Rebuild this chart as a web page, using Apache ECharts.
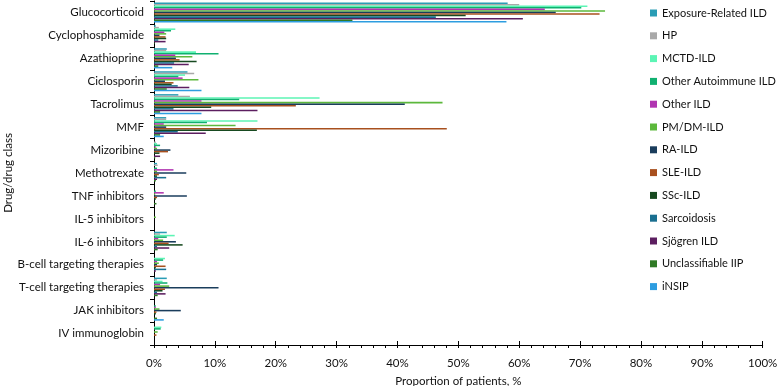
<!DOCTYPE html>
<html><head><meta charset="utf-8">
<script src="https://cdn.jsdelivr.net/npm/echarts@6/dist/echarts.min.js"></script>
<style>html,body{margin:0;padding:0;background:#fff}#c{width:778px;height:386px}</style>
</head><body><div id="c"></div>
<script>
var categories = ["Glucocorticoid","Cyclophosphamide","Azathioprine","Ciclosporin","Tacrolimus","MMF","Mizoribine","Methotrexate","TNF inhibitors","IL-5 inhibitors","IL-6 inhibitors","B-cell targeting therapies","T-cell targeting therapies","JAK inhibitors","IV immunoglobin"];
var xTicks = [0,10,20,30,40,50,60,70,80,90,100];
var seriesNames = ["Exposure-Related ILD","HP","MCTD-ILD","Other Autoimmune ILD","Other ILD","PM/DM-ILD","RA-ILD","SLE-ILD","SSc-ILD","Sarcoidosis","Sjögren ILD","Unclassifiable IIP","iNSIP"];
var exposure = [58.1,0.3,2.1,5.5,4.0,2.0,0,0.5,0,0,2.1,0,2.1,0,0];
var hp       = [60.0,0.8,2.0,6.6,5.9,2.0,0.3,0.6,0,0,1.0,0,0.5,0,0];
var mctd     = [71.2,3.5,6.9,5.1,27.2,17.0,0.5,0,0,0,3.4,1.8,1.4,0,1.2];
var otherAuto= [70.2,2.8,10.6,4.0,14.0,8.7,1.0,0.5,0.3,0,2.1,1.5,2.2,0.3,1.1];
var otherIld = [64.2,1.7,3.5,4.7,7.8,1.6,0.3,3.2,1.6,0,0.7,0.5,1.0,0.3,0];
var pmdm     = [74.1,2.0,6.3,7.3,47.4,13.4,0.5,0.5,0.2,0.3,1.5,0.8,2.5,0.9,0.6];
var ra       = [66.0,0.9,3.6,1.8,41.2,2.0,2.7,5.3,5.4,0,3.6,0.5,10.6,4.4,0];
var sle      = [73.2,1.9,4.2,3.2,23.3,48.1,2.3,0.8,0.5,0,2.4,1.9,1.8,0.4,0.4];
var ssc      = [51.2,2.0,7.0,2.9,9.4,16.9,0.9,0.5,0.3,0,4.7,0.3,1.4,0.3,0];
var sarc     = [46.3,0.7,3.3,3.9,3.2,3.9,0,2.0,0,0,0.5,2.0,0.5,0,0];
var sjogren  = [60.6,1.9,5.7,5.8,17.0,8.5,1.0,0.5,0,0,2.5,0.3,1.9,0,0];
var uncl     = [32.6,0.1,0.7,2.1,1.0,1.0,0.2,0.3,0.4,0,0.6,0,0.6,0.5,0];
var insip    = [57.9,0,3.0,7.8,7.8,1.6,0,0,0,0,0,0,0,1.6,0];
var seriesData = [exposure,hp,mctd,otherAuto,otherIld,pmdm,ra,sle,ssc,sarc,sjogren,uncl,insip];
var colors = ["#2a9db5","#a9a9a9","#5cf5b5","#10b070","#b035b0","#5cb83c","#1a3d5c","#a8501e","#174a20","#1a6f90","#5c1e60","#2f7a25","#2d9de0"];

var font = "Lato";
var chart = echarts.init(document.getElementById('c'), null, {renderer:'canvas'});
var series = seriesNames.map(function(n,i){
  return {name:n, type:'bar', data:seriesData[i], barGap:'0%', barCategoryGap:'12%',
    itemStyle:{color:colors[i]}, xAxisIndex:0, yAxisIndex:0};
});
chart.setOption({
  animation:false,
  color:colors,
  textStyle:{fontFamily:font},
  grid:{left:154, right:15.3, top:1, bottom:41, containLabel:false, outerBoundsMode:'none'},
  legend:{orient:'vertical', left:650, top:6, padding:0, itemWidth:7, itemHeight:7, itemGap:8.8, icon:'rect',
    textStyle:{fontFamily:font, fontSize:11, color:'#111', lineHeight:14},
    data:seriesNames},
  xAxis:[{
    type:'value', min:0, max:100, interval:10,
    name:'Proportion of patients, %', nameLocation:'middle', nameGap:30, nameMoveOverlap:false,
    nameTextStyle:{fontFamily:font, fontSize:11.5, color:'#111'},
    axisLine:{show:true, lineStyle:{color:'#000', width:1}},
    axisTick:{show:true, length:3, lineStyle:{color:'#000'}},
    minorTick:{show:true, splitNumber:5, length:3, lineStyle:{color:'#000'}},
    axisLabel:{margin:12, fontFamily:font, fontSize:11.5, color:'#111', formatter:function(v){return xTicks.indexOf(v)>=0? v+'%':'';}},
    splitLine:{show:false}
  },{
    type:'value', min:0, max:100, interval:10, position:'bottom',
    axisLine:{show:false}, axisLabel:{show:false}, splitLine:{show:false},
    axisTick:{show:true, inside:true, length:4, lineStyle:{color:'#000'}}
  }],
  yAxis:{
    type:'category', data:categories, inverse:true,
    name:'Drug/drug class', nameLocation:'middle', nameGap:140, nameRotate:90, nameMoveOverlap:false,
    nameTextStyle:{fontFamily:font, fontSize:11.5, color:'#111'},
    axisLine:{show:true, lineStyle:{color:'#000'}},
    axisTick:{show:true, length:4, alignWithLabel:false, lineStyle:{color:'#000'}},
    axisLabel:{margin:10, fontFamily:font, fontSize:11.5, color:'#111'}
  },
  series:series
});
</script></body></html>
